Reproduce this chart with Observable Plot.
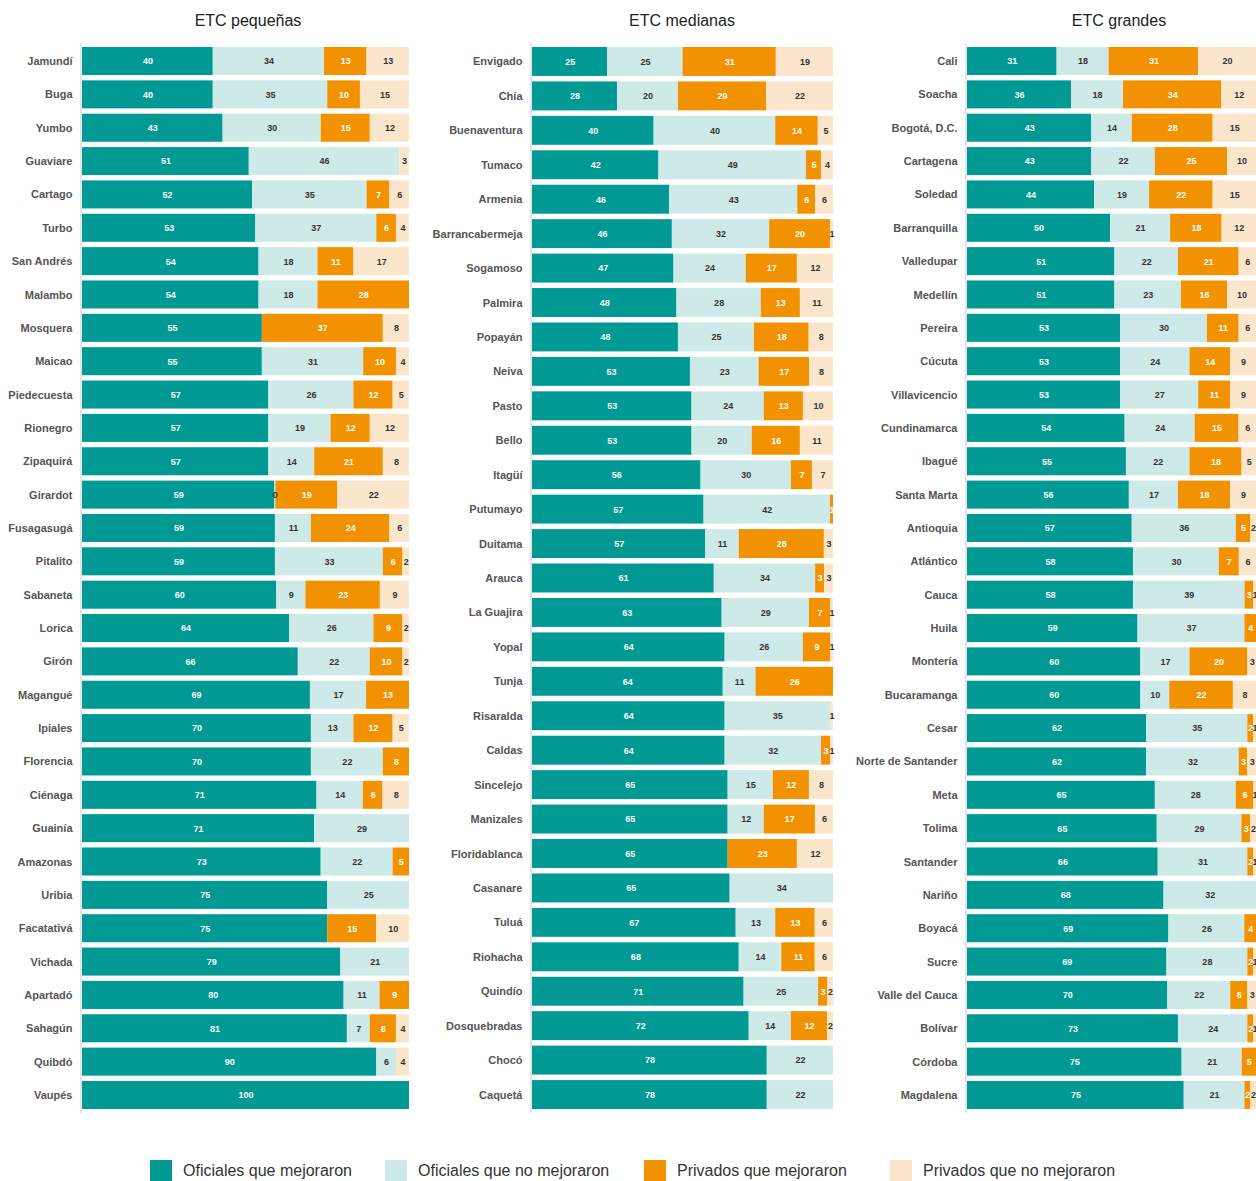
<!DOCTYPE html>
<html><head><meta charset="utf-8">
<script src="https://cdn.jsdelivr.net/npm/d3@7"></script>
<script src="https://cdn.jsdelivr.net/npm/@observablehq/plot@0.6"></script>
<style>
body{margin:0;background:#fff;font-family:"Liberation Sans",Arial,sans-serif;}
#wrap{position:relative;width:1256px;height:1181px;overflow:hidden;background:#fff;}
.panel{position:absolute;top:40px;}
.title{position:absolute;top:11px;width:240px;margin-left:-120px;font-size:16px;line-height:20px;color:#222;text-align:center;}
.leg{position:absolute;top:1160px;height:22px;display:flex;align-items:center;font-size:16px;color:#333;white-space:nowrap;}
.leg span.sw{display:inline-block;width:22px;height:22px;margin-right:11px;}
</style></head>
<body><div id="wrap"></div>
<script>
const types = ["Oficiales que mejoraron","Oficiales que no mejoraron","Privados que mejoraron","Privados que no mejoraron"];
const colors = ["#009994","#cde9e8","#f39200","#fce6cb"];
const titles = ["ETC pequeñas","ETC medianas","ETC grandes"];

const smallNames = ["Jamundí","Buga","Yumbo","Guaviare","Cartago","Turbo","San Andrés","Malambo","Mosquera","Maicao","Piedecuesta","Rionegro","Zipaquirá","Girardot","Fusagasugá","Pitalito","Sabaneta","Lorica","Girón","Magangué","Ipiales","Florencia","Ciénaga","Guainía","Amazonas","Uribia","Facatativá","Vichada","Apartadó","Sahagún","Quibdó","Vaupés"];
const smallOfm  = [40,40,43,51,52,53,54,54,55,55,57,57,57,59,59,59,60,64,66,69,70,70,71,71,73,75,75,79,80,81,90,100];
const smallOfnm = [34,35,30,46,35,37,18,18,0,31,26,19,14,0.3,11,33,9,26,22,17,13,22,14,29,22,25,0,21,11,7,6,0];
const smallPrm  = [13,10,15,0,7,6,11,28,37,10,12,12,21,19,24,6,23,9,10,13,12,8,6,0,5,0,15,0,9,8,0,0];
const smallPrnm = [13,15,12,3,6,4,17,0,8,4,5,12,8,22,6,2,9,2,2,0,5,0,8,0,0,0,10,0,0,4,4,0];

const medNames = ["Envigado","Chía","Buenaventura","Tumaco","Armenia","Barrancabermeja","Sogamoso","Palmira","Popayán","Neiva","Pasto","Bello","Itagüí","Putumayo","Duitama","Arauca","La Guajira","Yopal","Tunja","Risaralda","Caldas","Sincelejo","Manizales","Floridablanca","Casanare","Tuluá","Riohacha","Quindío","Dosquebradas","Chocó","Caquetá"];
const medOfm  = [25,28,40,42,46,46,47,48,48,53,53,53,56,57,57,61,63,64,64,64,64,65,65,65,65,67,68,71,72,78,78];
const medOfnm = [25,20,40,49,43,32,24,28,25,23,24,20,30,42,11,34,29,26,11,35,32,15,12,0,34,13,14,25,14,22,22];
const medPrm  = [31,29,14,5,6,20,17,13,18,17,13,16,7,1,28,3,7,9,26,0,3,12,17,23,0,13,11,3,12,0,0];
const medPrnm = [19,22,5,4,6,1,12,11,8,8,10,11,7,0,3,3,1,1,0,1,1,8,6,12,0,6,6,2,2,0,0];

const largeNames = ["Cali","Soacha","Bogotá, D.C.","Cartagena","Soledad","Barranquilla","Valledupar","Medellín","Pereira","Cúcuta","Villavicencio","Cundinamarca","Ibagué","Santa Marta","Antioquia","Atlántico","Cauca","Huila","Montería","Bucaramanga","Cesar","Norte de Santander","Meta","Tolima","Santander","Nariño","Boyacá","Sucre","Valle del Cauca","Bolívar","Córdoba","Magdalena"];
const largeOfm  = [31,36,43,43,44,50,51,51,53,53,53,54,55,56,57,58,58,59,60,60,62,62,65,65,66,68,69,69,70,73,75,75];
const largeOfnm = [18,18,14,22,19,21,22,23,30,24,27,24,22,17,36,30,39,37,17,10,35,32,28,29,31,32,26,28,22,24,21,21];
const largePrm  = [31,34,28,25,22,18,21,16,11,14,11,15,18,18,5,7,3,4,20,22,2,3,6,3,2,0,4,2,6,2,5,2];
const largePrnm = [20,12,15,10,15,12,6,10,6,9,9,6,5,9,2,6,1,0,3,8,1,3,1,2,1,0,0,1,3,1,0,2];

const wrap = document.getElementById("wrap");
const white = new Set([types[0], types[2]]);

function makePanel(names, series, cfg) {
  const data = [];
  names.forEach((n, i) => types.forEach((t, k) => data.push({name: n, type: t, value: series[k][i]})));
  const st = {x: "value", y: "name", z: "type", order: types, offset: "normalize"};
  const chart = Plot.plot({
    width: cfg.width,
    height: 1075,
    marginTop: 7,
    marginBottom: 6,
    marginLeft: cfg.ml,
    marginRight: cfg.mr,
    style: {fontFamily: '"Liberation Sans", Arial, sans-serif', fontSize: "11px", fontWeight: "bold", color: "#555", background: "transparent"},
    x: {axis: null},
    y: {domain: names, paddingInner: 0.16, paddingOuter: 0, round: false, label: null},
    color: {domain: types, range: colors},
    marks: [
      Plot.ruleX([0], {stroke: "#dcdcdc", strokeWidth: 1.5, dx: -1.5, insetTop: -4, insetBottom: -4}),
      Plot.barX(data, Plot.stackX({...st, fill: "type"})),
      Plot.textX(data, Plot.stackX({...st, text: d => (white.has(d.type) && d.value > 0) ? String(Math.round(d.value)) : "", fill: "white", fontSize: 9, fontWeight: "bold"})),
      Plot.textX(data, Plot.stackX({...st, text: d => (!white.has(d.type) && d.value > 0) ? String(Math.round(d.value)) : "", fill: "#333", fontSize: 9, fontWeight: "bold"})),
      Plot.axisY({tickSize: 0, tickPadding: 10, fontSize: 11, fontWeight: "bold", fill: "#555", label: null})
    ]
  });
  const div = document.createElement("div");
  div.className = "panel";
  div.style.left = cfg.left + "px";
  div.appendChild(chart);
  wrap.appendChild(div);
  const t = document.createElement("div");
  t.className = "title";
  t.style.left = cfg.tc + "px";
  t.textContent = cfg.title;
  wrap.appendChild(t);
}

makePanel(smallNames, [smallOfm, smallOfnm, smallPrm, smallPrnm], {left: 0, width: 415, ml: 82, mr: 6, tc: 248, title: titles[0]});
makePanel(medNames, [medOfm, medOfnm, medPrm, medPrnm], {left: 420, width: 415, ml: 112, mr: 2, tc: 682, title: titles[1]});
makePanel(largeNames, [largeOfm, largeOfnm, largePrm, largePrnm], {left: 840, width: 416, ml: 127, mr: 0, tc: 1119, title: titles[2]});

const legX = [150, 385, 644, 890];
types.forEach((t, i) => {
  const d = document.createElement("div");
  d.className = "leg";
  d.style.left = legX[i] + "px";
  const sw = document.createElement("span");
  sw.className = "sw";
  sw.style.background = colors[i];
  d.appendChild(sw);
  d.appendChild(document.createTextNode(t));
  wrap.appendChild(d);
});
</script>
</body></html>
